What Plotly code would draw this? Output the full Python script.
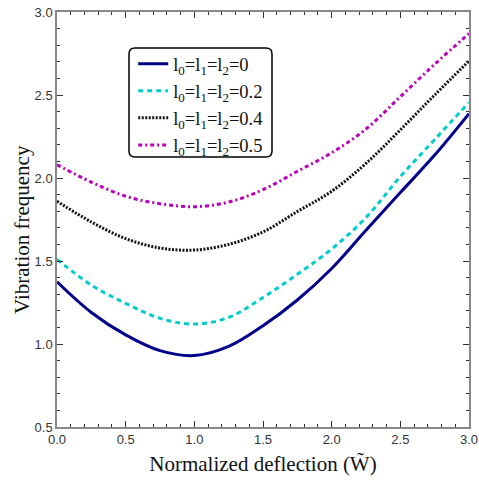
import plotly.graph_objects as go

x_vals = [0.0, 0.25, 0.5, 0.75, 1.0, 1.25, 1.5, 1.75, 2.0, 2.25, 2.5, 2.75, 3.0]
freq_l0 = [1.375, 1.19, 1.055, 0.96, 0.93, 0.985, 1.11, 1.265, 1.455, 1.685, 1.912, 2.138, 2.388]
freq_l02 = [1.51, 1.355, 1.245, 1.155, 1.12, 1.16, 1.28, 1.42, 1.572, 1.762, 2.008, 2.232, 2.455]
freq_l04 = [1.86, 1.735, 1.635, 1.578, 1.566, 1.60, 1.675, 1.798, 1.92, 2.088, 2.29, 2.50, 2.705]
freq_l05 = [2.08, 1.975, 1.89, 1.845, 1.827, 1.855, 1.93, 2.04, 2.152, 2.295, 2.49, 2.685, 2.87]

names = ["l<sub>0</sub>=l<sub>1</sub>=l<sub>2</sub>=0",
         "l<sub>0</sub>=l<sub>1</sub>=l<sub>2</sub>=0.2",
         "l<sub>0</sub>=l<sub>1</sub>=l<sub>2</sub>=0.4",
         "l<sub>0</sub>=l<sub>1</sub>=l<sub>2</sub>=0.5"]
series = [freq_l0, freq_l02, freq_l04, freq_l05]
colors = ["#00008B", "#00CCCC", "#111111", "#BB00BB"]
dashes = ["solid", "5px,4px", "2px,1.5px", "4px,3px,2px,3px"]

fig = go.Figure()
for i, (nm, ys, c, d) in enumerate(zip(names, series, colors, dashes)):
    fig.add_trace(go.Scatter(x=x_vals, y=ys, mode="lines", name=nm, legendgroup=f"g{i}",
                             line=dict(color=c, width=3, dash=d, shape="spline", smoothing=1.0)))

axis_common = dict(showline=True, linecolor="#888888", linewidth=1.5, mirror="ticks",
                   ticks="inside", ticklen=6, tickcolor="#333333", showgrid=False, zeroline=False,
                   automargin=False,
                   tickfont=dict(family="Liberation Sans", size=13, color="#333333"),
                   minor=dict(ticks="inside", ticklen=3, dtick=0.1, tickcolor="#333333", showgrid=False))

fig.update_xaxes(range=[0, 3], dtick=0.5, tick0=0, tickformat=".1f",
                 title=dict(text="Normalized deflection (W\u0303)",
                            font=dict(family="Liberation Serif", size=21, color="#111111"), standoff=10),
                 **axis_common)
fig.update_yaxes(range=[0.5, 3], dtick=0.5, tick0=0.5, tickformat=".1f", **axis_common)

fig.add_annotation(text="Vibration frequency", xref="paper", yref="paper",
                   x=(22 - 57) / 412, y=(427 - 230) / 415, xanchor="center", yanchor="middle",
                   textangle=-90, showarrow=False,
                   font=dict(family="Liberation Serif", size=21, color="#111111"))

# rounded legend frame (paper coords)
x0, x1 = (129 - 57) / 412, (272 - 57) / 412
y0, y1 = (427 - 157) / 415, (427 - 48) / 415
rx, ry = 6 / 412, 6 / 415
path = (f"M {x0+rx},{y1} L {x1-rx},{y1} Q {x1},{y1} {x1},{y1-ry} "
        f"L {x1},{y0+ry} Q {x1},{y0} {x1-rx},{y0} L {x0+rx},{y0} Q {x0},{y0} {x0},{y0+ry} "
        f"L {x0},{y1-ry} Q {x0},{y1} {x0+rx},{y1} Z")
fig.add_shape(type="path", path=path, xref="paper", yref="paper",
              line=dict(color="black", width=1.5), fillcolor="white", layer="above")

fig.update_layout(
    width=479, height=481,
    margin=dict(l=57, r=10, t=12, b=54, autoexpand=False),
    paper_bgcolor="white", plot_bgcolor="white",
    legend=dict(x=0.185, y=0.92, xanchor="left", yanchor="top",
                bgcolor="rgba(0,0,0,0)", borderwidth=0,
                font=dict(family="Liberation Serif", size=18.5, color="#111111"),
                tracegroupgap=0, itemwidth=30),
    showlegend=True,
)

fig.write_html("out.html", config={"displayModeBar": False},
               post_script="document.body.style.margin='0';")
